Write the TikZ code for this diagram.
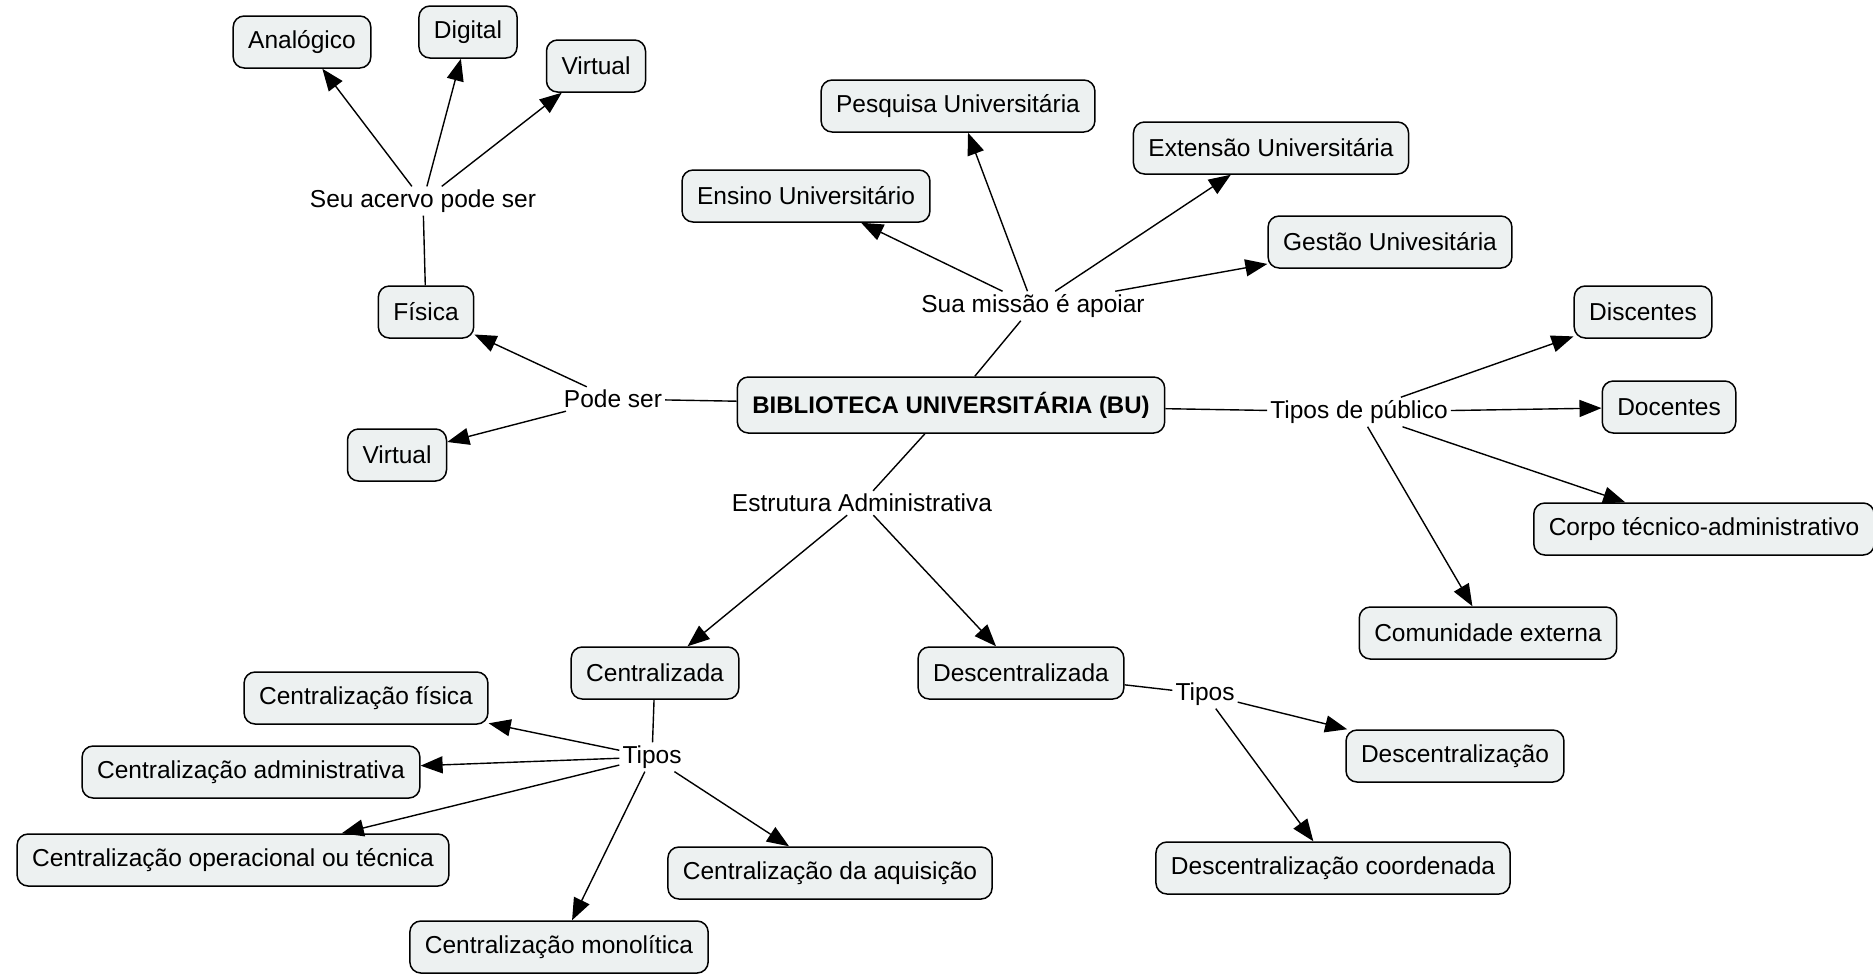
\documentclass[tikz,border=0pt]{standalone}
\usepackage{fontspec}
\setmainfont{Liberation Sans}
\usetikzlibrary{arrows.meta}
\definecolor{boxfill}{HTML}{EDF1F1}
\tikzset{
  concept/.style={draw=black, line width=1.5pt, rounded corners=11pt, fill=boxfill,
    inner xsep=15pt, minimum height=52pt, font=\fontsize{24.5}{29}\selectfont},
  link/.style={inner sep=3pt, font=\fontsize{24.5}{29}\selectfont},
  conn/.style={line width=1.4pt},
  arr/.style={line width=1.4pt, -{Triangle[length=22pt,width=17pt]}},
}
\begin{document}
\begin{tikzpicture}[x=1pt,y=-1pt]
\useasboundingbox (0,0) rectangle (1873,975);
% concepts
\node[concept, font=\fontsize{24}{29}\selectfont\bfseries, minimum height=56pt] (bu) at (951,405) {BIBLIOTECA UNIVERSITÁRIA (BU)};
\node[concept] (analog) at (302,42) {Analógico};
\node[concept] (digital) at (468,32) {Digital};
\node[concept] (virtT) at (596,66) {Virtual};
\node[concept] (fisica) at (426,312) {Física};
\node[concept] (virtL) at (397,455) {Virtual};
\node[concept] (pesq) at (958,106) {Pesquisa Universitária};
\node[concept] (ensino) at (806,196) {Ensino Universitário};
\node[concept] (ext) at (1271,148) {Extensão Universitária};
\node[concept] (gestao) at (1390,242) {Gestão Univesitária};
\node[concept] (disc) at (1643,312) {Discentes};
\node[concept] (doc) at (1669,407) {Docentes};
\node[concept] (corpo) at (1704,529) {Corpo técnico-administrativo};
\node[concept] (comun) at (1488,633) {Comunidade externa};
\node[concept] (centr) at (655,673) {Centralizada};
\node[concept] (descentr) at (1021,673) {Descentralizada};
\node[concept] (cfis) at (366,698) {Centralização física};
\node[concept] (cadm) at (251,772) {Centralização administrativa};
\node[concept] (coper) at (233,860) {Centralização operacional ou técnica};
\node[concept] (cmono) at (559,947) {Centralização monolítica};
\node[concept] (caqui) at (830,873) {Centralização da aquisição};
\node[concept] (desc) at (1455,756) {Descentralização};
\node[concept] (desccoord) at (1333,868) {Descentralização coordenada};
% linking phrases
\node[link] (seu) at (423,201) {Seu acervo pode ser};
\node[link] (pode) at (613,399) {Pode ser};
\node[link] (sua) at (1033,306) {Sua missão é apoiar};
\node[link] (tpub) at (1359,412) {Tipos de público};
\node[link] (estr) at (862,503) {Estrutura Administrativa};
\node[link] (tiposL) at (652,757) {Tipos};
\node[link] (tiposR) at (1205,694) {Tipos};
% connectors
\draw[conn] (fisica) -- (seu);
\draw[arr] (seu) -- (analog);
\draw[arr] (seu) -- (digital);
\draw[arr] (seu) -- (virtT);
\draw[conn] (bu) -- (pode);
\draw[arr] (pode) -- (fisica);
\draw[arr] (pode) -- (virtL);
\draw[conn] (bu) -- (sua);
\draw[arr] (sua) -- (ensino);
\draw[arr] (sua) -- (pesq);
\draw[arr] (sua) -- (ext);
\draw[arr] (sua) -- (gestao);
\draw[conn] (bu) -- (tpub);
\draw[arr] (tpub) -- (disc);
\draw[arr] (tpub) -- (doc);
\draw[arr] (tpub) -- (corpo);
\draw[arr] (tpub) -- (comun);
\draw[conn] (bu) -- (estr);
\draw[arr] (estr) -- (centr);
\draw[arr] (estr) -- (descentr);
\draw[conn] (centr) -- (tiposL);
\draw[arr] (tiposL) -- (cfis);
\draw[arr] (tiposL) -- (cadm);
\draw[arr] (tiposL) -- (coper);
\draw[arr] (tiposL) -- (cmono);
\draw[arr] (tiposL) -- (caqui);
\draw[conn] (descentr) -- (tiposR);
\draw[arr] (tiposR) -- (desc);
\draw[arr] (tiposR) -- (desccoord);
\end{tikzpicture}
\end{document}
